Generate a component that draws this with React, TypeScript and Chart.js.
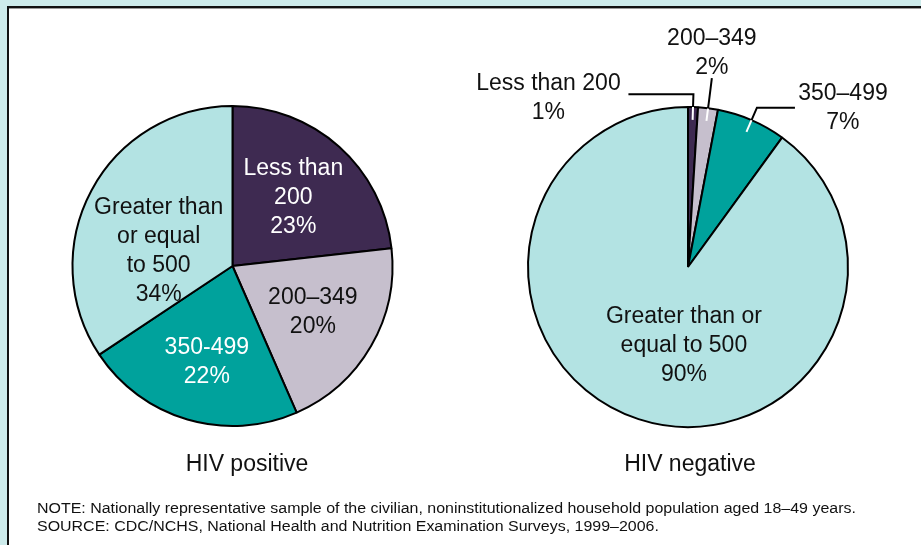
import React, { useEffect, useRef } from "react";
import { Chart, registerables } from "chart.js";

Chart.register(...registerables);

// ---- Data ----
const categories = ["Less than 200", "200–349", "350–499", "Greater than or equal to 500"];
const hivPositiveValues = [23, 20, 22, 34];
const hivNegativeValues = [1, 2, 7, 90];
const sliceColors = ["#3e2a51", "#c6bfcd", "#00a29c", "#b3e3e3"];
const positiveLabelNames = [["Less than", "200"], ["200–349"], ["350-499"], ["Greater than", "or equal", "to 500"]];
const positiveLabelColors = ["#ffffff", "#111111", "#ffffff", "#111111"];
const negativeLabelNames = [["Less than 200"], ["200–349"], ["350–499"], ["Greater than or", "equal to 500"]];
const negativeLabelColors = ["#111111", "#111111", "#111111", "#111111"];
const chartTitles = ["HIV positive", "HIV negative"];
const noteLines = [
  "NOTE: Nationally representative sample of the civilian, noninstitutionalized household population aged 18–49 years.",
  "SOURCE: CDC/NCHS, National Health and Nutrition Examination Surveys, 1999–2006.",
];

const FONT = '"Liberation Sans", Arial, Helvetica, sans-serif';
const LABEL_SIZE = 23;
const LINE_H = 29;

type LabelSpec =
  | { kind: "inside"; r: number; angle?: number }
  | { kind: "outside"; inner: number; elbow: number; hx: number; dx: number; dy: number };

const positiveSpecs: LabelSpec[] = [
  { kind: "inside", r: 0.57 },
  { kind: "inside", r: 0.58 },
  { kind: "inside", r: 0.62, angle: 195 },
  { kind: "inside", r: 0.47, angle: 281 },
];

const negativeSpecs: LabelSpec[] = [
  { kind: "outside", inner: 0.92, elbow: 1.08, hx: -65, dx: -80, dy: 3.5 },
  { kind: "outside", inner: 0.92, elbow: 1.19, hx: 0, dx: 0, dy: -25 },
  { kind: "outside", inner: 0.92, elbow: 1.085, hx: 38, dx: 48, dy: 0 },
  { kind: "inside", r: 0.49, angle: 183 },
];

function makeLabelPlugin(names: string[][], values: number[], colors: string[], specs: LabelSpec[]) {
  return {
    id: "sliceLabels",
    afterDatasetsDraw(chart: any) {
      const ctx: CanvasRenderingContext2D = chart.ctx;
      const meta = chart.getDatasetMeta(0);
      ctx.save();
      ctx.font = `${LABEL_SIZE}px ${FONT}`;
      ctx.textAlign = "center";
      ctx.textBaseline = "middle";
      meta.data.forEach((arc: any, i: number) => {
        const { x, y, startAngle, endAngle, outerRadius } = arc.getProps(
          ["x", "y", "startAngle", "endAngle", "outerRadius"],
          true
        );
        const spec = specs[i];
        const lines = [...names[i], `${values[i]}%`];
        const mid =
          spec.kind === "inside" && spec.angle !== undefined
            ? (spec.angle * Math.PI) / 180 - Math.PI / 2
            : (startAngle + endAngle) / 2;
        const pt = (f: number) => [x + Math.cos(mid) * f * outerRadius, y + Math.sin(mid) * f * outerRadius];
        let cx: number, cy: number;
        if (spec.kind === "inside") {
          [cx, cy] = pt(spec.r);
        } else {
          const p0 = pt(spec.inner);
          const p1 = pt(1.0);
          const p2 = pt(spec.elbow);
          const p3 = [p2[0] + spec.hx, p2[1]];
          ctx.lineWidth = 2;
          ctx.lineCap = "butt";
          ctx.strokeStyle = "#ffffff";
          ctx.beginPath();
          ctx.moveTo(p0[0], p0[1]);
          ctx.lineTo(p1[0], p1[1]);
          ctx.stroke();
          ctx.strokeStyle = "#000000";
          ctx.beginPath();
          ctx.moveTo(p1[0], p1[1]);
          ctx.lineTo(p2[0], p2[1]);
          ctx.lineTo(p3[0], p3[1]);
          ctx.stroke();
          cx = p3[0] + spec.dx;
          cy = p3[1] + spec.dy;
        }
        ctx.fillStyle = colors[i];
        lines.forEach((t, k) => {
          ctx.fillText(t, cx, cy + (k - (lines.length - 1) / 2) * LINE_H);
        });
      });
      ctx.restore();
    },
  };
}

function PieCanvas(props: {
  values: number[];
  names: string[][];
  colors: string[];
  specs: LabelSpec[];
  left: number;
  width: number;
  height: number;
  padding: { left: number; right: number; top: number; bottom: number };
}) {
  const ref = useRef<HTMLCanvasElement | null>(null);
  useEffect(() => {
    if (!ref.current) return;
    const chart = new Chart(ref.current, {
      type: "pie",
      data: {
        labels: categories,
        datasets: [
          {
            data: props.values,
            backgroundColor: sliceColors,
            borderColor: "#000000",
            borderWidth: 2,
          },
        ],
      },
      options: {
        responsive: false,
        animation: false,
        events: [],
        layout: { padding: props.padding },
        plugins: { legend: { display: false }, tooltip: { enabled: false }, title: { display: false } },
      },
      plugins: [makeLabelPlugin(props.names, props.values, props.colors, props.specs)],
    } as any);
    return () => chart.destroy();
  }, []);
  return (
    <canvas
      ref={ref}
      width={props.width}
      height={props.height}
      style={{ position: "absolute", left: props.left, top: 0, width: props.width, height: props.height }}
    />
  );
}

export default function App() {
  return (
    <div
      style={{
        position: "fixed",
        left: 0,
        top: 0,
        width: 921,
        height: 545,
        overflow: "hidden",
        background: "#cdebeb",
        fontFamily: FONT,
      }}
    >
      <div
        style={{
          position: "absolute",
          left: 7,
          top: 6,
          width: 940,
          height: 560,
          background: "#ffffff",
          borderLeft: "2px solid #111",
          borderTop: "2px solid #111",
          boxShadow: "inset 0 1px 0 #9a9a9a",
        }}
      />
      <PieCanvas
        values={hivPositiveValues}
        names={positiveLabelNames}
        colors={positiveLabelColors}
        specs={positiveSpecs}
        left={0}
        width={460}
        height={545}
        padding={{ left: 71.5, right: 66.5, top: 105, bottom: 118 }}
      />
      <PieCanvas
        values={hivNegativeValues}
        names={negativeLabelNames}
        colors={negativeLabelColors}
        specs={negativeSpecs}
        left={460}
        width={461}
        height={545}
        padding={{ left: 67, right: 72, top: 106, bottom: 117 }}
      />
      {chartTitles.map((t, i) => (
        <div
          key={t}
          style={{
            position: "absolute",
            left: (i === 0 ? 247 : 690) - 150,
            width: 300,
            top: 463 - 15,
            height: 30,
            lineHeight: "30px",
            textAlign: "center",
            fontSize: LABEL_SIZE,
            color: "#111",
          }}
        >
          {t}
        </div>
      ))}
      {noteLines.map((t, i) => (
        <div
          key={i}
          style={{
            position: "absolute",
            left: 37,
            top: 499 + i * 18,
            height: 18,
            lineHeight: "18px",
            fontSize: 14,
            color: "#111",
            whiteSpace: "nowrap",
            transform: "scaleX(1.14)",
            transformOrigin: "0 50%",
          }}
        >
          {t}
        </div>
      ))}
    </div>
  );
}
